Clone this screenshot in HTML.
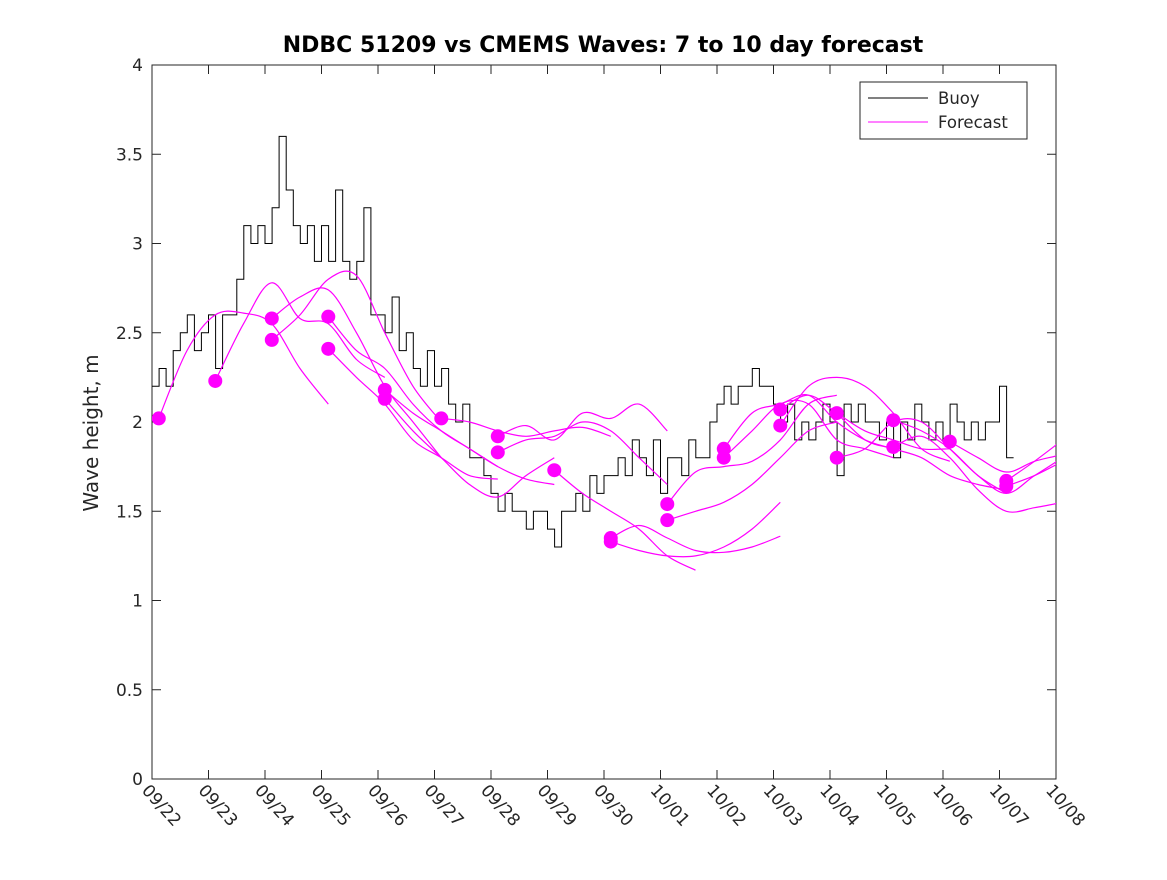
<!DOCTYPE html>
<html><head><meta charset="utf-8"><style>
html,body{margin:0;padding:0;background:#fff;}
svg text{font-family:"DejaVu Sans","Liberation Sans",sans-serif;fill:#262626;}
</style></head><body>
<svg id="chart" width="1167" height="875" viewBox="0 0 1167 875" xmlns="http://www.w3.org/2000/svg">
<rect width="1167" height="875" fill="#fff"/>
<text x="603" y="52" text-anchor="middle" font-size="22" font-weight="bold" style="fill:#000">NDBC 51209 vs CMEMS Waves: 7 to 10 day forecast</text>
<text transform="translate(98,433) rotate(-90)" text-anchor="middle" font-size="20">Wave height, m</text>
<defs><clipPath id="pc"><rect x="152" y="65" width="904" height="714"/></clipPath></defs>
<g id="axes"></g>
<g id="series" clip-path="url(#pc)"></g>
<g id="legend">
<rect x="860" y="82" width="167" height="57" fill="#fff" stroke="#262626" stroke-width="1"/>
<line x1="868" y1="98" x2="928" y2="98" stroke="#000" stroke-width="1"/>
<text x="938" y="104" font-size="16.5">Buoy</text>
<line x1="868" y1="122" x2="928" y2="122" stroke="#f0f" stroke-width="1"/>
<text x="938" y="128" font-size="16.5">Forecast</text>
</g>
</svg>
<script>
const xTickLabels=["09/22","09/23","09/24","09/25","09/26","09/27","09/28","09/29","09/30","10/01","10/02","10/03","10/04","10/05","10/06","10/07","10/08"];
const yTickValues=[0,0.5,1,1.5,2,2.5,3,3.5,4];
const yTickLabels=["0","0.5","1","1.5","2","2.5","3","3.5","4"];
const buoyStep=0.125;
const buoyValues=[2.2,2.3,2.2,2.4,2.5,2.6,2.4,2.5,2.6,2.3,2.6,2.6,2.8,3.1,3.0,3.1,
3.0,3.2,3.6,3.3,3.1,3.0,3.1,2.9,3.1,2.9,3.3,2.9,2.8,2.9,3.2,2.6,
2.6,2.5,2.7,2.4,2.5,2.3,2.2,2.4,2.2,2.3,2.1,2.0,2.1,1.8,1.8,1.7,
1.6,1.5,1.6,1.5,1.5,1.4,1.5,1.5,1.4,1.3,1.5,1.5,1.6,1.5,1.7,1.6,
1.7,1.7,1.8,1.7,1.9,1.8,1.7,1.9,1.6,1.8,1.8,1.7,1.9,1.8,1.8,2.0,
2.1,2.2,2.1,2.2,2.2,2.3,2.2,2.2,2.1,2.0,2.1,1.9,2.0,1.9,2.0,2.1,
2.0,1.7,2.1,2.0,2.1,2.0,2.0,1.9,2.0,1.8,2.0,1.9,2.1,2.0,1.9,2.0,
1.9,2.1,2.0,1.9,2.0,1.9,2.0,2.0,2.2,1.8,1.8];
const forecastStep=0.5;
const forecastStarts=[0.12,1.12,2.12,2.12,3.12,3.12,4.12,4.12,5.12,6.12,6.12,7.12,8.12,8.12,9.12,9.12,10.12,10.12,11.12,11.12,12.12,12.12,13.12,13.12,14.12,15.12,15.12];
const forecastValues=[
[2.02,2.4,2.6,2.61,2.55,2.3,2.1],
[2.23,2.55,2.78,2.58,2.55,2.35,2.25],
[2.58,2.7,2.74,2.5,2.2,2.0,1.8],
[2.46,2.6,2.8,2.82,2.5,2.2,2.0],
[2.59,2.4,2.3,2.1,1.95,1.85,1.75],
[2.41,2.25,2.1,1.9,1.8,1.7,1.68],
[2.18,2.05,1.95,1.85,1.75,1.68,1.65],
[2.13,1.95,1.8,1.65,1.58,1.7,1.8],
[2.02,2.0,1.95,1.92,1.95,1.97,1.92],
[1.92,1.98,1.9,2.05,2.02,2.1,1.95],
[1.83,1.9,1.92,2.0,1.95,1.8,1.65],
[1.73,1.6,1.5,1.4,1.25,1.17],
[1.35,1.42,1.35,1.28,1.27,1.3,1.36],
[1.33,1.28,1.25,1.25,1.3,1.4,1.55],
[1.54,1.72,1.75,1.78,1.9,2.1,2.15],
[1.45,1.5,1.55,1.65,1.8,1.95,2.0],
[1.85,2.05,2.1,2.15,2.0,1.9,1.85],
[1.80,1.95,2.1,2.1,1.9,1.85,1.8],
[2.07,2.15,2.05,1.95,1.9,1.85,1.85],
[1.98,2.2,2.25,2.2,2.05,1.85,1.78],
[2.05,1.9,1.85,1.8,1.7,1.65,1.62],
[1.80,1.85,2.0,2.0,1.85,1.7,1.6],
[2.01,1.95,1.85,1.7,1.6,1.7,1.8],
[1.86,1.92,1.8,1.62,1.5,1.52,1.55],
[1.89,1.8,1.72,1.78,1.82,1.88,1.9],
[1.67,1.78,1.9],
[1.64,1.7,1.78]];
const X0=152,X1=1056,Y0=779,Y1=65,DAYS=16,YMAX=4;
function xs(d){return X0+(X1-X0)*d/DAYS;}
function ys(v){return Y0-(Y0-Y1)*v/YMAX;}
const NS="http://www.w3.org/2000/svg";
function mk(tag,attrs,parent){const e=document.createElementNS(NS,tag);for(const k in attrs)e.setAttribute(k,attrs[k]);parent.appendChild(e);return e;}
const axes=document.getElementById('axes');
const box=mk('rect',{x:X0,y:Y1,width:X1-X0,height:Y0-Y1,fill:'none',stroke:'#262626','stroke-width':1},axes);


yTickValues.forEach((v,i)=>{
  const y=ys(v);
  mk('line',{x1:X0,y1:y,x2:X0+9,y2:y,stroke:'#262626'},axes);
  mk('line',{x1:X1,y1:y,x2:X1-9,y2:y,stroke:'#262626'},axes);
  const t=mk('text',{x:X0-9,y:y+6,'text-anchor':'end','font-size':17},axes);
  t.textContent=yTickLabels[i];
  
  
});
xTickLabels.forEach((l,i)=>{
  const x=xs(i);
  mk('line',{x1:x,y1:Y0,x2:x,y2:Y0-9,stroke:'#262626'},axes);
  mk('line',{x1:x,y1:Y1,x2:x,y2:Y1+9,stroke:'#262626'},axes);
  const t=mk('text',{transform:`translate(${x-11},${Y0+12}) rotate(48)`,'font-size':17},axes);
  t.textContent=l;
  
  
});
const ser=document.getElementById('series');
let bpts=[];
buoyValues.forEach((v,i)=>{
  const x=xs(i*buoyStep),y=ys(v);
  if(i>0){bpts.push(`${x.toFixed(1)},${ys(buoyValues[i-1]).toFixed(1)}`);}
  bpts.push(`${x.toFixed(1)},${y.toFixed(1)}`);
});
const bl=mk('polyline',{points:bpts.join(' '),fill:'none',stroke:'#000','stroke-width':1},ser);


function smooth(pts){
  let d=`M${pts[0][0]},${pts[0][1]}`;
  for(let i=0;i<pts.length-1;i++){
    const p0=pts[Math.max(0,i-1)],p1=pts[i],p2=pts[i+1],p3=pts[Math.min(pts.length-1,i+2)];
    const c1=[p1[0]+(p2[0]-p0[0])/6,p1[1]+(p2[1]-p0[1])/6];
    const c2=[p2[0]-(p3[0]-p1[0])/6,p2[1]-(p3[1]-p1[1])/6];
    d+=` C${c1[0].toFixed(1)},${c1[1].toFixed(1)} ${c2[0].toFixed(1)},${c2[1].toFixed(1)} ${p2[0].toFixed(1)},${p2[1].toFixed(1)}`;
  }
  return d;
}
forecastValues.forEach((vals,k)=>{
  const s=forecastStarts[k];
  const pts=vals.map((v,i)=>[xs(s+i*forecastStep),ys(v)]);
  const p=mk('path',{d:smooth(pts),fill:'none',stroke:'#f0f','stroke-width':1.2},ser);
  
  
  const c=mk('circle',{cx:pts[0][0],cy:pts[0][1],r:7,fill:'#f0f'},ser);
  
  
});
</script>
</body></html>
